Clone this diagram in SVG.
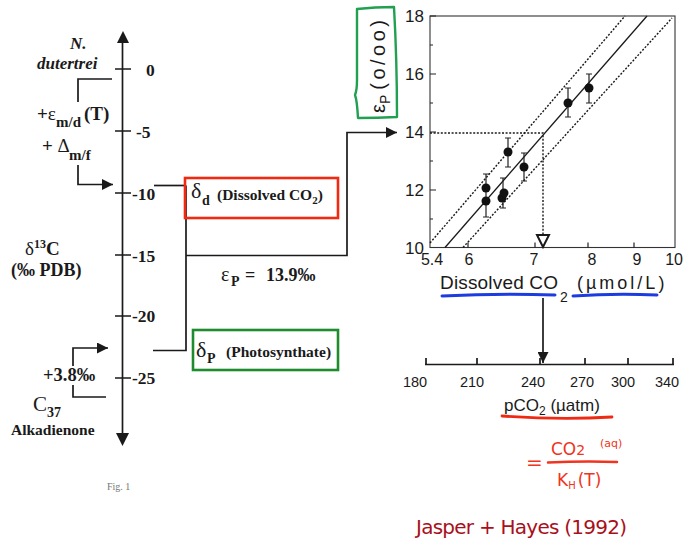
<svg xmlns="http://www.w3.org/2000/svg" width="684" height="552" viewBox="0 0 684 552">
<defs>
<marker id="ah" viewBox="0 0 10 10" refX="10" refY="5" markerWidth="13" markerHeight="11" markerUnits="userSpaceOnUse" orient="auto"><path d="M0,0 L10,5 L0,10 z" fill="#1a1a1a"/></marker>
</defs>
<style>
.ser{font-family:"Liberation Serif","Times New Roman",serif;font-weight:bold;fill:#1a1a1a}
.it{font-style:italic}
.nrm{font-weight:normal}
.sans{font-family:"Liberation Sans",Arial,sans-serif;fill:#1a1a1a}
.ln{stroke:#1a1a1a;stroke-width:1.7;fill:none}
.thin{stroke:#222;stroke-width:1.2;fill:none}
.dot{stroke:#1a1a1a;stroke-width:1.4;fill:none;stroke-dasharray:2 1.6}
.pt{fill:#111}
.hand{font-family:"DejaVu Sans","Liberation Sans",sans-serif}
</style>
<rect width="684" height="552" fill="#ffffff"/>

<g id="isotope-axis">
<path class="ln" d="M122.5,38 V438"/>
<polygon points="117,43 129,43 123,31" fill="#1a1a1a"/>
<polygon points="116,433 129,433 122.5,446" fill="#1a1a1a"/>
<path class="ln" d="M115,69 H131 M115,131 H131 M115,193 H131 M115,255 H131 M115,316 H131 M115,378 H131"/>
<g class="ser" font-size="17.5">
<text x="146" y="76">0</text>
<text x="136" y="138">-5</text>
<text x="132" y="200">-10</text>
<text x="132" y="262">-15</text>
<text x="132" y="322">-20</text>
<text x="132" y="384">-25</text>
</g>
<text class="ser" font-size="19" x="25" y="255"><tspan class="nrm">δ</tspan><tspan font-size="12" dy="-7">13</tspan><tspan dy="7">C</tspan></text>
<text class="ser" font-size="18" x="11" y="276">(‰ PDB)</text>
</g>

<g id="n-dutertrei">
<text class="ser it" font-size="17" x="70" y="49">N.</text>
<text class="ser it" font-size="17" x="37" y="69">dutertrei</text>
</g>

<g id="fractionation-label">
<text class="ser" font-size="19" x="37" y="120"><tspan>+</tspan><tspan class="nrm">ε</tspan></text>
<text class="ser" font-size="15" x="56" y="127">m/d</text>
<text class="ser" font-size="19" x="84" y="120">(T)</text>
<text class="ser" font-size="19" x="42" y="152">+ <tspan class="nrm">Δ</tspan></text>
<text class="ser" font-size="15" x="69" y="160">m/f</text>
</g>

<g id="alkadienone">
<text class="ser" font-size="18.5" x="43" y="381">+3.8‰</text>
<text class="ser nrm" font-size="21" x="33" y="411">C</text>
<text class="ser" font-size="14" x="47" y="417">37</text>
<text class="ser" font-size="15.5" x="11" y="435">Alkadienone</text>
</g>

<g id="connectors">
<path class="ln" d="M112,79 H78 V102"/>
<path class="ln" d="M78,165 V184.5 H113" marker-end="url(#ah)"/>
<path class="ln" d="M106,397 H73 V385"/>
<path class="ln" d="M73,366 V348 H108" marker-end="url(#ah)"/>
<path class="ln" d="M154,185.5 H186"/>
<path class="ln" d="M186,185.5 V350.5 H153"/>
<path class="ln" d="M186,255.5 H347 V132.5 H397" marker-end="url(#ah)"/>
<path class="ln" d="M543,298 V363" marker-end="url(#ah)"/>
</g>

<g id="delta-d">
<rect x="185" y="178" width="153" height="40" fill="none" stroke="#f02a12" stroke-width="2.6"/>
<text class="ser nrm" font-size="22" x="191" y="198">δ</text>
<text class="ser" font-size="14" x="202" y="205">d</text>
<text class="ser" font-size="15.5" x="217" y="200">(Dissolved CO<tspan font-size="11" dy="4">2</tspan><tspan dy="-4">)</tspan></text>
</g>

<g id="delta-p">
<rect x="193" y="330" width="145" height="40" fill="none" stroke="#1e8c2e" stroke-width="2.6"/>
<text class="ser nrm" font-size="22" x="196" y="357">δ</text>
<text class="ser" font-size="14" x="207" y="363">P</text>
<text class="ser" font-size="15.5" x="226" y="357">(Photosynthate)</text>
</g>

<g id="eps-p">
<text class="ser nrm" font-size="20" x="221" y="281">ε</text>
<text class="ser" font-size="14" x="231" y="286">P</text>
<text class="ser" font-size="18" x="245" y="281">=</text>
<text class="ser" font-size="18" x="266" y="281">13.9‰</text>
</g>

<g id="plot">
<rect x="430" y="16" width="245" height="231.5" fill="none" stroke="#333" stroke-width="1.1"/>
<path class="thin" d="M430,16 h6 M430,45 h3 M430,74 h6 M430,103 h3 M430,132 h6 M430,161 h3 M430,190 h6 M430,219 h3"/>
<path class="thin" d="M468,247.5 v-5 M535,247.5 v-5 M588,247.5 v-5 M634,247.5 v-5"/>
<g class="sans" font-size="17" text-anchor="end">
<text x="424" y="22">18</text>
<text x="424" y="80">16</text>
<text x="424" y="138">14</text>
<text x="424" y="196">12</text>
<text x="424" y="254">10</text>
</g>
<g class="sans" font-size="16" text-anchor="middle">
<text x="432" y="265">5.4</text>
<text x="469" y="265">6</text>
<text x="534" y="265">7</text>
<text x="592" y="265">8</text>
<text x="637" y="265">9</text>
</g>
<text class="sans" font-size="16" x="683" y="265" text-anchor="end">10</text>
<path d="M445,247.5 L647,16" stroke="#1a1a1a" stroke-width="1.3" fill="none"/>
<path class="dot" d="M430,243 L625,16"/>
<path class="dot" d="M463,247.5 L672,18"/>
<path class="dot" d="M430,133 H543 V236"/>
<polygon points="537,235 549,235 543,247" fill="#fff" stroke="#1a1a1a" stroke-width="2"/>
<path class="thin" d="M486,174 V217 M483,174 h6 M483,217 h6 M503,178 V208 M500,178 h6 M500,208 h6 M508,138 V167 M505,138 h6 M505,167 h6 M524,153 V181 M521,153 h6 M521,181 h6 M568,88 V117 M565,88 h6 M565,117 h6 M589,74 V103 M586,74 h6 M586,103 h6"/>
<circle class="pt" cx="486" cy="188" r="4.5"/>
<circle class="pt" cx="486" cy="201" r="4.5"/>
<circle class="pt" cx="502" cy="198" r="4.5"/>
<circle class="pt" cx="504" cy="193" r="4.5"/>
<circle class="pt" cx="508" cy="152" r="4.5"/>
<circle class="pt" cx="524" cy="167" r="4.5"/>
<circle class="pt" cx="568" cy="103" r="4.5"/>
<circle class="pt" cx="589" cy="88" r="4.5"/>
<path d="M357,9 Q375,7 394,7 Q397,60 397,117 Q377,118 358,118 Q357,100 355,95 Q357,90 357,80 Z" fill="none" stroke="#20a050" stroke-width="2.4" stroke-linejoin="round"/>
<g transform="translate(385,113) rotate(-90)">
<text class="sans" font-size="20"><tspan>ε</tspan><tspan font-size="14" dy="5">P</tspan><tspan dy="-5" dx="5" letter-spacing="3.5">(o/oo)</tspan></text>
</g>
<text class="sans" font-size="19" x="440" y="289" textLength="118">Dissolved CO</text>
<text class="sans" font-size="14" x="560" y="302">2</text>
<text class="sans" font-size="18" x="577" y="289" letter-spacing="3">(µmol/L)</text>
<path d="M442,296 Q500,293 555,295 M573,296 Q615,293 657,295" stroke="#1d3ce0" stroke-width="3" fill="none" stroke-linecap="round"/>
</g>

<g id="pco2-axis">
<path class="ln" d="M425,364.5 H674 M426,358 v6.5 M477,358 v6.5 M540,358 v6.5 M585,358 v6.5 M628,358 v6.5 M673,358 v6.5"/>
<g class="sans" font-size="14.5" text-anchor="middle">
<text x="415" y="387">180</text>
<text x="472" y="387">210</text>
<text x="533" y="387">240</text>
<text x="582" y="387">270</text>
<text x="623" y="387">300</text>
<text x="667" y="387">340</text>
</g>
<text class="sans" font-size="17" x="504" y="411">pCO<tspan font-size="12" dy="4">2</tspan><tspan dy="-4"> (µatm)</tspan></text>
<path d="M502,416 Q560,420 612,417" stroke="#f02a12" stroke-width="2.8" fill="none" stroke-linecap="round"/>
</g>

<g id="henry-formula" fill="#f03420">
<text class="hand" font-size="20" x="526" y="469">=</text>
<text class="hand" font-size="17" x="551" y="455">CO<tspan font-size="14">2</tspan></text>
<text class="hand" font-size="11" x="600" y="447">(aq)</text>
<path d="M548,462.5 Q583,461 617,462" stroke="#f03420" stroke-width="2.5" fill="none" stroke-linecap="round"/>
<text class="hand" font-size="17" x="557" y="486">K<tspan font-size="10" dy="3">H</tspan><tspan dy="-3" dx="2">(T)</tspan></text>
</g>

<g id="citation">
<text class="hand" font-size="20" x="416" y="534" fill="#a8101c" textLength="211">Jasper + Hayes (1992)</text>
</g>

<g id="fig-label">
<text font-family="Liberation Serif, serif" font-size="10" fill="#777" x="107" y="490">Fig. 1</text>
</g>
</svg>
